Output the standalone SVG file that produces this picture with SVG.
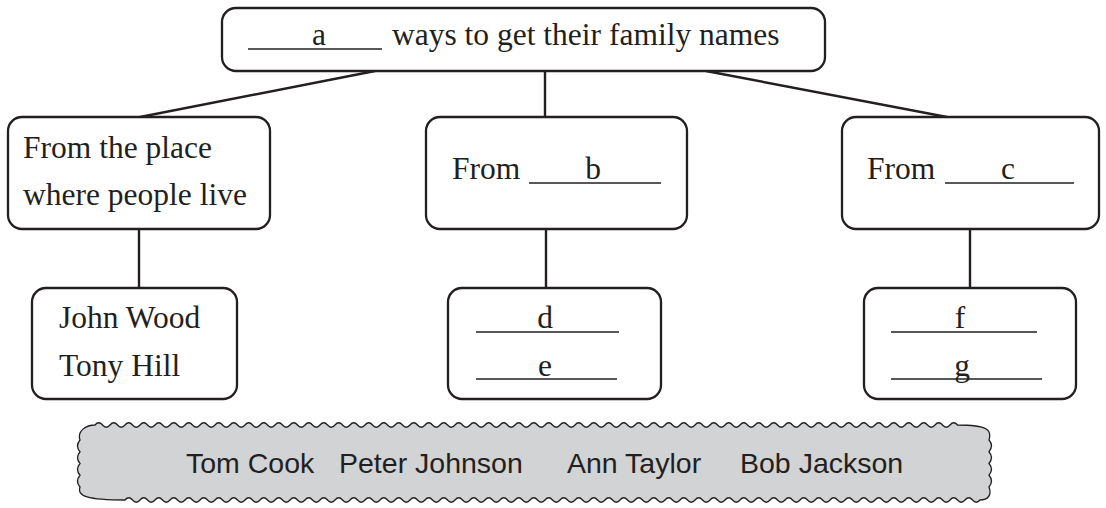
<svg xmlns="http://www.w3.org/2000/svg" width="1106" height="508" viewBox="0 0 1106 508">
<style>
.box{fill:#fff;stroke:#231f20;stroke-width:2.3}
.ln{stroke:#231f20;stroke-width:2.4;fill:none}
.ul{stroke:#231f20;stroke-width:1.5}
.t{font-family:"Liberation Serif","Times New Roman",serif;font-size:31.5px;fill:#231f20}
.m{text-anchor:middle}
.s{font-family:"Liberation Sans",Arial,sans-serif;font-size:28.5px;fill:#231f20}
.banner{fill:#d1d3d4;stroke:#231f20;stroke-width:1.3}
</style>
<g id="connectors">
<line class="ln" x1="375" y1="71" x2="140" y2="117"/>
<line class="ln" x1="545" y1="71" x2="545" y2="117"/>
<line class="ln" x1="706" y1="71" x2="947" y2="117"/>
<line class="ln" x1="139" y1="229" x2="139" y2="288"/>
<line class="ln" x1="546" y1="229" x2="546" y2="288"/>
<line class="ln" x1="970" y1="229" x2="970" y2="288"/>
</g>
<g id="top">
<rect class="box" x="222" y="8" width="603" height="63" rx="14"/>
<line class="ul" x1="248" y1="49" x2="382" y2="49"/>
<text class="t m" x="319" y="45">a</text>
<text class="t" x="392" y="45">ways to get their family names</text>
</g>
<g id="place">
<rect class="box" x="8" y="117" width="262" height="112" rx="14"/>
<text class="t" x="23" y="158">From the place</text>
<text class="t" x="23" y="205">where people live</text>
</g>
<g id="from-b">
<rect class="box" x="426" y="117" width="261" height="112" rx="14"/>
<text class="t" x="452" y="179">From</text>
<line class="ul" x1="529" y1="183" x2="661" y2="183"/>
<text class="t m" x="593" y="179">b</text>
</g>
<g id="from-c">
<rect class="box" x="842" y="117" width="257" height="112" rx="14"/>
<text class="t" x="867" y="179">From</text>
<line class="ul" x1="945" y1="183" x2="1074" y2="183"/>
<text class="t m" x="1008" y="179">c</text>
</g>
<g id="examples">
<rect class="box" x="32" y="288" width="205" height="111" rx="14"/>
<text class="t" x="59" y="328">John Wood</text>
<text class="t" x="59" y="376">Tony Hill</text>
</g>
<g id="d-e">
<rect class="box" x="448" y="288" width="213" height="111" rx="14"/>
<text class="t m" x="545" y="328">d</text>
<line class="ul" x1="476" y1="332" x2="619" y2="332"/>
<text class="t m" x="545" y="376">e</text>
<line class="ul" x1="476" y1="379" x2="617" y2="379"/>
</g>
<g id="f-g">
<rect class="box" x="864" y="288" width="212" height="111" rx="14"/>
<text class="t m" x="960" y="328">f</text>
<line class="ul" x1="891" y1="332" x2="1037" y2="332"/>
<text class="t m" x="962" y="376">g</text>
<line class="ul" x1="891" y1="379" x2="1042" y2="379"/>
</g>
<g id="names">
<path class="banner" d="M95 425 q3.75 -4.5 7.5 0 t7.5 0 t7.5 0 t7.5 0 t7.5 0 t7.5 0 t7.5 0 t7.5 0 t7.5 0 t7.5 0 t7.5 0 t7.5 0 t7.5 0 t7.5 0 t7.5 0 t7.5 0 t7.5 0 t7.5 0 t7.5 0 t7.5 0 t7.5 0 t7.5 0 t7.5 0 t7.5 0 t7.5 0 t7.5 0 t7.5 0 t7.5 0 t7.5 0 t7.5 0 t7.5 0 t7.5 0 t7.5 0 t7.5 0 t7.5 0 t7.5 0 t7.5 0 t7.5 0 t7.5 0 t7.5 0 t7.5 0 t7.5 0 t7.5 0 t7.5 0 t7.5 0 t7.5 0 t7.5 0 t7.5 0 t7.5 0 t7.5 0 t7.5 0 t7.5 0 t7.5 0 t7.5 0 t7.5 0 t7.5 0 t7.5 0 t7.5 0 t7.5 0 t7.5 0 t7.5 0 t7.5 0 t7.5 0 t7.5 0 t7.5 0 t7.5 0 t7.5 0 t7.5 0 t7.5 0 t7.5 0 t7.5 0 t7.5 0 t7.5 0 t7.5 0 t7.5 0 t7.5 0 t7.5 0 t7.5 0 t7.5 0 t7.5 0 t7.5 0 t7.5 0 t7.5 0 t7.5 0 t7.5 0 t7.5 0 t7.5 0 t7.5 0 t7.5 0 t7.5 0 t7.5 0 t7.5 0 t7.5 0 t7.5 0 t7.5 0 t7.5 0 t7.5 0 t7.5 0 t7.5 0 t7.5 0 t7.5 0 t7.5 0 t7.5 0 t7.5 0 t7.5 0 t7.5 0 t7.5 0 t7.5 0 t7.5 0 t7.5 0 t7.5 0 t7.5 0 t7.5 0 t7.5 0 t7.5 0 C988 425 992 430 989 440 q5 5.8 0 11.75 q5 5.8 0 11.75 q5 5.8 0 11.75 q5 5.8 0 11.75 C992 495 988 500 980 500 q-3.75 4.5 -7.5 0 t-7.5 0 t-7.5 0 t-7.5 0 t-7.5 0 t-7.5 0 t-7.5 0 t-7.5 0 t-7.5 0 t-7.5 0 t-7.5 0 t-7.5 0 t-7.5 0 t-7.5 0 t-7.5 0 t-7.5 0 t-7.5 0 t-7.5 0 t-7.5 0 t-7.5 0 t-7.5 0 t-7.5 0 t-7.5 0 t-7.5 0 t-7.5 0 t-7.5 0 t-7.5 0 t-7.5 0 t-7.5 0 t-7.5 0 t-7.5 0 t-7.5 0 t-7.5 0 t-7.5 0 t-7.5 0 t-7.5 0 t-7.5 0 t-7.5 0 t-7.5 0 t-7.5 0 t-7.5 0 t-7.5 0 t-7.5 0 t-7.5 0 t-7.5 0 t-7.5 0 t-7.5 0 t-7.5 0 t-7.5 0 t-7.5 0 t-7.5 0 t-7.5 0 t-7.5 0 t-7.5 0 t-7.5 0 t-7.5 0 t-7.5 0 t-7.5 0 t-7.5 0 t-7.5 0 t-7.5 0 t-7.5 0 t-7.5 0 t-7.5 0 t-7.5 0 t-7.5 0 t-7.5 0 t-7.5 0 t-7.5 0 t-7.5 0 t-7.5 0 t-7.5 0 t-7.5 0 t-7.5 0 t-7.5 0 t-7.5 0 t-7.5 0 t-7.5 0 t-7.5 0 t-7.5 0 t-7.5 0 t-7.5 0 t-7.5 0 t-7.5 0 t-7.5 0 t-7.5 0 t-7.5 0 t-7.5 0 t-7.5 0 t-7.5 0 t-7.5 0 t-7.5 0 t-7.5 0 t-7.5 0 t-7.5 0 t-7.5 0 t-7.5 0 t-7.5 0 t-7.5 0 t-7.5 0 t-7.5 0 t-7.5 0 t-7.5 0 t-7.5 0 t-7.5 0 t-7.5 0 t-7.5 0 t-7.5 0 t-7.5 0 t-7.5 0 t-7.5 0 t-7.5 0 t-7.5 0 t-7.5 0 C87 500 77 496 80 487 q-5 -5.8 0 -11.75 q-5 -5.8 0 -11.75 q-5 -5.8 0 -11.75 q-5 -5.8 0 -11.75 C77 431 86 425 95 425 Z"/>
<text class="s" x="186" y="473">Tom Cook</text>
<text class="s" x="339" y="473">Peter Johnson</text>
<text class="s" x="567" y="473">Ann Taylor</text>
<text class="s" x="740" y="473">Bob Jackson</text>
</g>
</svg>
